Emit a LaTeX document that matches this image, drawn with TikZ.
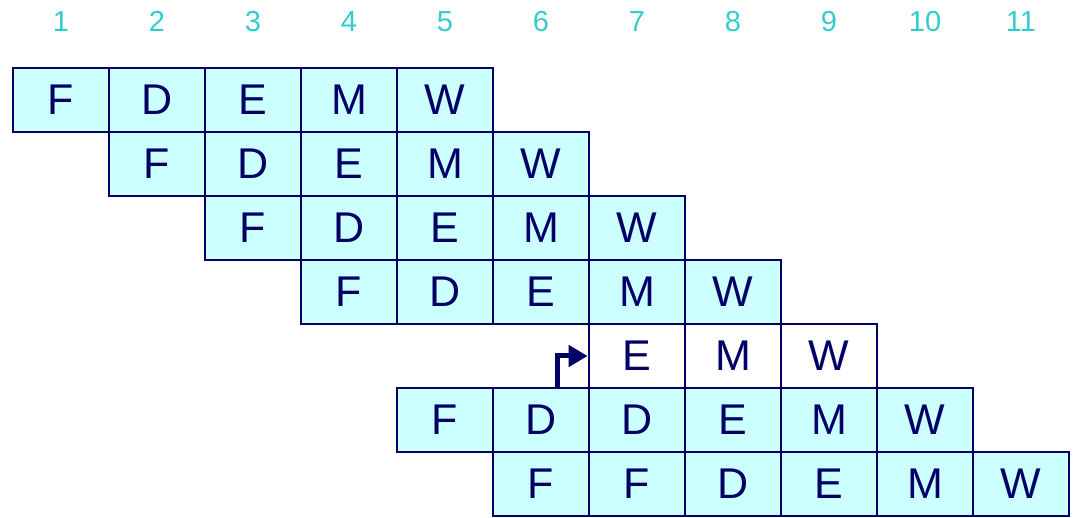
\documentclass[tikz,border=0pt]{standalone}
\usepackage{fontspec}
\setmainfont{Liberation Sans}
\usetikzlibrary{arrows.meta}
\definecolor{cellfill}{RGB}{204,255,255}
\definecolor{navy}{RGB}{0,0,102}
\definecolor{teal}{RGB}{51,204,204}
\tikzset{
  stage/.style={draw=navy, line width=2.8pt, minimum width=96pt, minimum height=64pt,
    inner sep=0pt, text=navy, font=\fontsize{43}{43}\selectfont},
  busy/.style={stage, fill=cellfill},
  idle/.style={stage, fill=white},
  cyc/.style={text=teal, font=\fontsize{29}{29}\selectfont, inner sep=0pt},
  fwd/.style={draw=navy, line width=5pt, line join=miter, -{Triangle[length=19pt,width=21pt]}}
}
\newcommand{\lowered}[1]{\raisebox{-2pt}{#1}}
\begin{document}
\begin{tikzpicture}[x=1pt,y=-1pt]
\useasboundingbox (0,0) rectangle (1074,518);
% cycle numbers
\foreach \c in {1,...,11}{
  \node[cyc] (n\c) at ({61+96*(\c-1)},21.5) {\c};
}
% rows: row, start column, stages
\foreach \r/\s/\stages in {1/1/{F,D,E,M,W},2/2/{F,D,E,M,W},3/3/{F,D,E,M,W},4/4/{F,D,E,M,W},6/5/{F,D,D,E,M,W},7/6/{F,F,D,E,M,W}}{
  \foreach \t [count=\i from 0] in \stages {
    \pgfmathtruncatemacro{\cc}{\s+\i}
    \node[busy] (r\r c\cc) at ({61+96*(\cc-1)},{100+64*(\r-1)}) {\lowered{\t}};
  }
}
% bubble row
\foreach \t [count=\i from 7] in {E,M,W}{
  \node[idle] (r5c\i) at ({61+96*(\i-1)},356) {\lowered{\t}};
}
\coordinate (fwdstart) at (557.5,388);
\draw[fwd] (fwdstart) |- (r5c7.west);
\end{tikzpicture}
\end{document}
